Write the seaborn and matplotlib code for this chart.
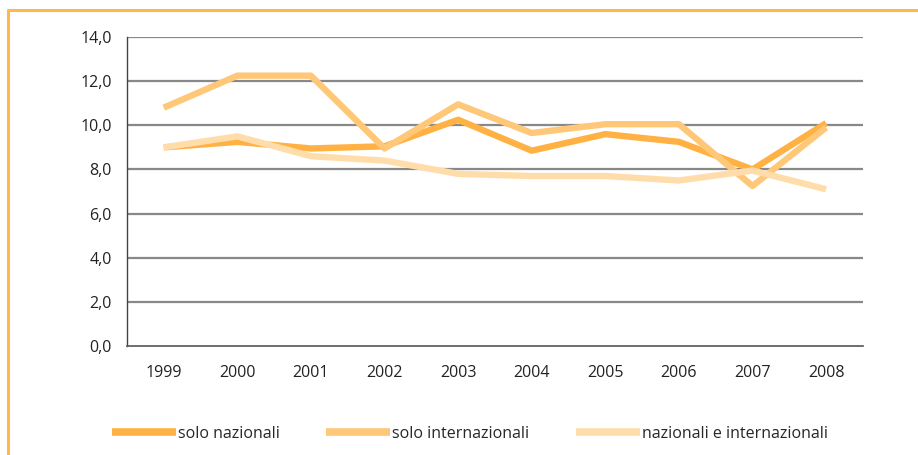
import pandas as pd
import numpy as np
import seaborn as sns
import matplotlib.pyplot as plt
from matplotlib.lines import Line2D

# data
anni = ['1999', '2000', '2001', '2002', '2003', '2004', '2005', '2006', '2007', '2008']
solo_nazionali = [9.0, 9.25, 8.95, 9.05, 10.25, 8.85, 9.6, 9.25, 8.0, 10.1]
solo_internazionali = [10.8, 12.25, 12.25, 8.95, 10.95, 9.65, 10.05, 10.05, 7.25, 9.9]
naz_e_int = [9.0, 9.5, 8.6, 8.4, 7.8, 7.7, 7.7, 7.5, 7.95, 7.1]

serie = ['solo nazionali', 'solo internazionali', 'nazionali e internazionali']
colori = ['#FFB243', '#FFC878', '#FFDDAB']

df = pd.DataFrame({
    'pos': list(range(len(anni))) * 3,
    'valore': solo_nazionali + solo_internazionali + naz_e_int,
    'serie': [s for s in serie for _ in anni],
})

sns.set_style("white")
plt.rcParams['font.family'] = ['Open Sans', 'DejaVu Sans']

fig = plt.figure(figsize=(9.18, 4.55), dpi=100)
ax = fig.add_axes([0.1383, 0.2396, 0.8017, 0.679])

sns.lineplot(data=df, x='pos', y='valore', hue='serie', hue_order=serie,
             palette=colori, linewidth=4.6, legend=False, ax=ax,
             solid_capstyle='butt')

ax.set_xlim(-0.5, len(anni) - 0.5)
ax.set_ylim(0, 14)
ax.set_yticks(np.arange(0, 14.1, 2))
ax.set_yticklabels([f'{v:.1f}'.replace('.', ',') for v in np.arange(0, 14.1, 2)])
ax.set_xticks(range(len(anni)))
ax.set_xticklabels(anni)
ax.set_xticks(np.arange(-0.5, len(anni), 1), minor=True)
ax.tick_params(axis='x', which='major', length=0, pad=14, labelsize=11.5, colors='#222222')
ax.tick_params(axis='x', which='minor', length=5, width=1, color='#555555', direction='out')
ax.tick_params(axis='y', length=5, width=1, color='#555555', direction='out', pad=6,
               labelsize=11.5, labelcolor='#222222')
ax.set_xlabel('')
ax.set_ylabel('')

# horizontal gridlines
for v in np.arange(2, 14.1, 2):
    ax.axhline(v, color='#888888', linewidth=1.6, zorder=0)

for s in ['top', 'right']:
    ax.spines[s].set_visible(False)
ax.spines['left'].set_color('#444444')
ax.spines['left'].set_linewidth(1)
ax.spines['bottom'].set_color('#555555')
ax.spines['bottom'].set_linewidth(1.2)

handles = [Line2D([0], [0], color=c, linewidth=5.5, solid_capstyle='butt') for c in colori]
fig.legend(handles, serie, loc='center left', bbox_to_anchor=(0.106, 0.046), ncol=3,
           frameon=False, handlelength=4.0, handletextpad=0.15, columnspacing=2.9,
           fontsize=11.5)

# orange frame around the chart (top and left visible)
fig.add_artist(Line2D([0.009, 1.0], [0.978, 0.978], color='#FFB84D', linewidth=2.2,
                      transform=fig.transFigure))
fig.add_artist(Line2D([0.009, 0.009], [0.0, 0.978], color='#FFB84D', linewidth=2.2,
                      transform=fig.transFigure))

plt.savefig('out.png', dpi=100)
